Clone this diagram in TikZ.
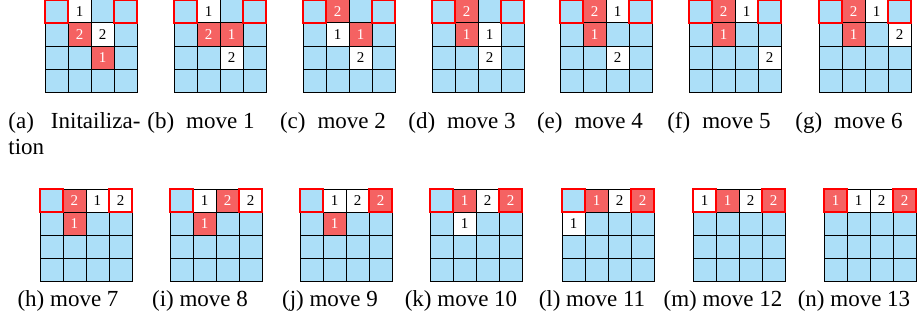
\documentclass[tikz,border=0pt]{standalone}
\usepackage{fontspec}
\setmainfont{Liberation Serif}
\newfontfamily\capfont{Liberation Serif}
\usetikzlibrary{positioning}
\definecolor{boardblue}{RGB}{172,223,248}
\definecolor{piecered}{RGB}{245,98,98}
\tikzset{
  cell/.style    = {draw, line width=0.5pt, fill=boardblue, minimum size=11.5pt, inner sep=0pt, outer sep=0pt},
  wpiece/.style  = {cell, fill=white, font=\capfont\fontsize{7.5}{8}\selectfont},
  rpiece/.style  = {cell, fill=piecered, text=white, font=\capfont\fontsize{7.5}{8}\selectfont},
  goal/.style    = {draw=red, line width=1.2pt},
  subcap/.style  = {anchor=base, inner sep=0pt, font=\capfont\fontsize{11.5}{13}\selectfont}
}
% 4x4 board: name, top-left x, top-left y, pieces as row/col/style/label
\newcommand{\gameboard}[4]{%
  \foreach \r in {0,...,3}{
    \foreach \c in {0,...,3}{
      \node[cell] (#1\r\c) at (#2+11.5+23*\c, #3-11.5-23*\r) {};
    }
  }
  \foreach \r/\c/\s/\n in {#4}{\node[\s] (#1p\r\c) at (#1\r\c) {\n};}
  \draw[goal] (#100.north west) rectangle (#100.south east);
  \draw[goal] (#103.north west) rectangle (#103.south east);
}

\begin{document}
\begin{tikzpicture}[x=0.5pt, y=0.5pt]
  \useasboundingbox (0,0) rectangle (917,333);

  % first row
  \gameboard{a}{45}{333}{0/1/wpiece/1, 1/1/rpiece/2, 1/2/wpiece/2, 2/2/rpiece/1}
  \gameboard{b}{174}{333}{0/1/wpiece/1, 1/1/rpiece/2, 1/2/rpiece/1, 2/2/wpiece/2}
  \gameboard{c}{303}{333}{0/1/rpiece/2, 1/1/wpiece/1, 1/2/rpiece/1, 2/2/wpiece/2}
  \gameboard{d}{432}{333}{0/1/rpiece/2, 1/1/rpiece/1, 1/2/wpiece/1, 2/2/wpiece/2}
  \gameboard{e}{560}{333}{0/1/rpiece/2, 0/2/wpiece/1, 1/1/rpiece/1, 2/2/wpiece/2}
  \gameboard{f}{689}{333}{0/1/rpiece/2, 0/2/wpiece/1, 1/1/rpiece/1, 2/3/wpiece/2}
  \gameboard{g}{819}{333}{0/1/rpiece/2, 0/2/wpiece/1, 1/1/rpiece/1, 1/3/wpiece/2}

  \node[subcap, anchor=base west] (capa) at (8,205)
    {\parbox[t]{66pt}{\makebox[66pt][s]{(a) Initailiza-}\\tion}};
  \node[subcap] (capb) at (201,205) {(b)\hspace{6pt}move 1};
  \node[subcap] (capc) at (333,205) {(c)\hspace{6pt}move 2};
  \node[subcap] (capd) at (462,205) {(d)\hspace{6pt}move 3};
  \node[subcap] (cape) at (590,205) {(e)\hspace{6pt}move 4};
  \node[subcap] (capf) at (719,205) {(f)\hspace{6pt}move 5};
  \node[subcap] (capg) at (849,205) {(g)\hspace{6pt}move 6};

  % second row
  \gameboard{h}{40}{144}{0/1/rpiece/2, 0/2/wpiece/1, 0/3/wpiece/2, 1/1/rpiece/1}
  \gameboard{i}{170}{144}{0/1/wpiece/1, 0/2/rpiece/2, 0/3/wpiece/2, 1/1/rpiece/1}
  \gameboard{j}{300}{144}{0/1/wpiece/1, 0/2/wpiece/2, 0/3/rpiece/2, 1/1/rpiece/1}
  \gameboard{k}{430}{144}{0/1/rpiece/1, 0/2/wpiece/2, 0/3/rpiece/2, 1/1/wpiece/1}
  \gameboard{l}{562}{144}{0/1/rpiece/1, 0/2/wpiece/2, 0/3/rpiece/2, 1/0/wpiece/1}
  \gameboard{m}{693}{144}{0/0/wpiece/1, 0/1/rpiece/1, 0/2/wpiece/2, 0/3/rpiece/2}
  \gameboard{n}{824}{144}{0/0/rpiece/1, 0/1/wpiece/1, 0/2/wpiece/2, 0/3/rpiece/2}

  \node[subcap] (caph) at (68,27)  {(h) move 7};
  \node[subcap] (capi) at (200,27) {(i) move 8};
  \node[subcap] (capj) at (330,27) {(j) move 9};
  \node[subcap] (capk) at (461,27) {(k) move 10};
  \node[subcap] (capl) at (592,27) {(l) move 11};
  \node[subcap] (capm) at (723,27) {(m) move 12};
  \node[subcap] (capn) at (854,27) {(n) move 13};
\end{tikzpicture}
\end{document}
